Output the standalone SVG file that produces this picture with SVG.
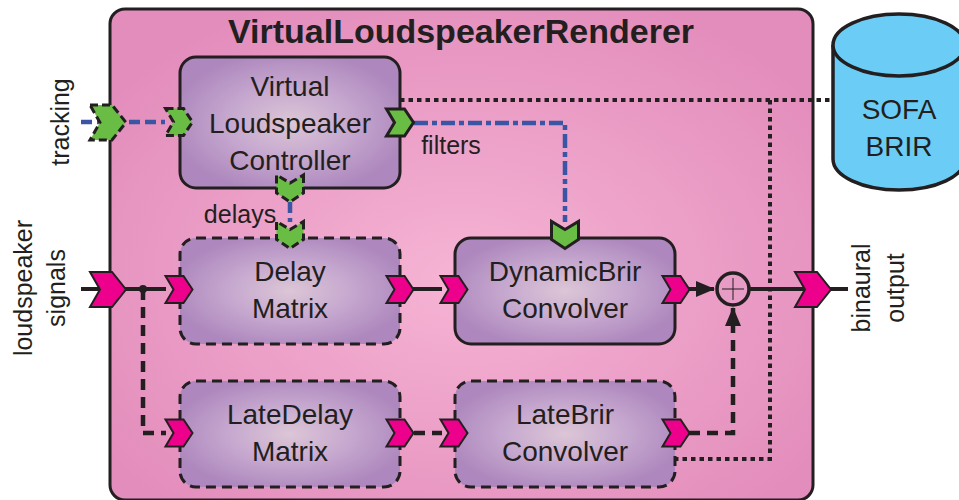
<svg xmlns="http://www.w3.org/2000/svg" width="959" height="500" viewBox="0 0 959 500">
<style>
text{font-family:"Liberation Sans",Arial,sans-serif;font-size:28px;fill:#231f20;text-anchor:middle}
.title{font-weight:bold;font-size:34px}
.side{font-size:25px}
.lab{font-size:25px}
.n{fill:url(#ng);stroke:#231f20;stroke-width:3}
.d{stroke-dasharray:10 6}
.l{fill:none;stroke:#231f20;stroke-width:4}
.dash{stroke-dasharray:11 7;stroke-width:4.500}
.dot{stroke-dasharray:4.500 4}
.b{fill:none;stroke:#3b55a5;stroke-width:4.500}
.p{fill:#ec008c;stroke:#231f20;stroke-width:2}
.g{fill:#69bd45;stroke:#231f20;stroke-width:3}
.gd{stroke-dasharray:8 4}
</style>
<defs>
<radialGradient id="bg" cx="0.5" cy="0.55" r="0.62"><stop offset="0" stop-color="#f6b4d4"/><stop offset="1" stop-color="#e38dbc"/></radialGradient>
<radialGradient id="ng" cx="0.5" cy="0.5" r="0.55"><stop offset="0" stop-color="#dcc6d6"/><stop offset="0.5" stop-color="#c6a8cf"/><stop offset="1" stop-color="#ad87bd"/></radialGradient>
<marker id="ah" markerUnits="userSpaceOnUse" markerWidth="20" markerHeight="16" refX="18" refY="8" orient="auto"><path d="M0 0L19 8L0 16Z" fill="#231f20"/></marker>
<polygon id="ps" points="-13.500,-13.500 4.500,-13.500 13.500,0 4.500,13.500 -13.500,13.500 -5.500,0"/>
<polygon id="pl" points="-18,-17.500 4,-17.500 18,0 4,17.500 -18,17.500 -8,0"/>
</defs>
<g id="renderer"><rect x="110" y="9" width="703" height="491" rx="15" fill="url(#bg)" stroke="#231f20" stroke-width="3"/><text class="title" x="461" y="43">VirtualLoudspeakerRenderer</text></g>
<g id="sofa"><path d="M833 45V159C833 176 862 190 899 190S965 176 965 159V45" fill="#6bcdf6" stroke="#231f20" stroke-width="3.500"/><ellipse cx="899" cy="45" rx="66" ry="31" fill="#6bcdf6" stroke="#231f20" stroke-width="3.500"/><text x="899" y="119">SOFA</text><text x="899" y="156">BRIR</text></g>
<g id="controller"><rect class="n" x="180" y="57" width="220" height="131" rx="16"/><text x="290" y="96">Virtual</text><text x="290" y="133">Loudspeaker</text><text x="290" y="170">Controller</text></g>
<g id="delay"><rect class="n d" x="180" y="238" width="220" height="106" rx="16"/><text x="290" y="281">Delay</text><text x="290" y="318">Matrix</text></g>
<g id="brir"><rect class="n" x="455" y="238" width="220" height="106" rx="16"/><text x="565" y="281">DynamicBrir</text><text x="565" y="318">Convolver</text></g>
<g id="latedelay"><rect class="n d" x="180" y="381" width="220" height="106" rx="16"/><text x="290" y="424">LateDelay</text><text x="290" y="461">Matrix</text></g>
<g id="latebrir"><rect class="n d" x="455" y="381" width="220" height="106" rx="16"/><text x="565" y="424">LateBrir</text><text x="565" y="461">Convolver</text></g>
<g id="connectors">
<path class="l dot" d="M400 100H833M770 100V459H675"/>
<path class="b" stroke-dasharray="11 5" d="M81 122H165"/>
<path class="b" stroke-dasharray="14 4 5 4" d="M414 123H565V222"/>
<path class="b" stroke-dasharray="11 5" d="M290 202V222"/>
<path class="l" d="M81 289H166M400 289H442M675 289H714" marker-end="url(#ah)"/>
<path class="l dash" d="M143 289V433H166M414 433H442"/>
<path class="l dash" d="M689 433H733V308" marker-end="url(#ah)"/>
<path class="l" d="M749 289H848"/>
<circle cx="143" cy="289" r="4" fill="#231f20"/>
</g>
<g id="sum"><circle cx="733" cy="289" r="16" fill="#e79cc6" stroke="#231f20" stroke-width="3.500"/><path d="M722 289H744M733 278V300" stroke="#231f20" stroke-width="1"/></g>
<g id="ports">
<use href="#pl" class="g gd" x="108" y="122.500"/>
<use href="#ps" class="g gd" x="179" y="122"/>
<use href="#ps" class="g" x="400" y="122.500"/>
<use href="#ps" class="g gd" transform="translate(290 188.500) rotate(90)"/>
<use href="#ps" class="g gd" transform="translate(290 235) rotate(90)"/>
<use href="#ps" class="g" transform="translate(565 235) rotate(90)"/>
<use href="#pl" class="p" x="108" y="289.500"/>
<use href="#ps" class="p" x="179" y="289.500"/>
<use href="#ps" class="p" x="400" y="289.500"/>
<use href="#ps" class="p" x="454" y="289.500"/>
<use href="#ps" class="p" x="676" y="289.500"/>
<use href="#ps" class="p" x="179" y="433"/>
<use href="#ps" class="p" x="400" y="433"/>
<use href="#ps" class="p" x="454" y="433"/>
<use href="#ps" class="p" x="676" y="433"/>
<use href="#pl" class="p" x="813" y="289.500"/>
</g>
<g id="labels">
<text class="lab" x="451" y="154">filters</text>
<text class="lab" x="240" y="223">delays</text>
<text class="side" transform="translate(69 122) rotate(-90)">tracking</text>
<text class="side" transform="translate(32 288) rotate(-90)">loudspeaker</text>
<text class="side" transform="translate(65 288) rotate(-90)">signals</text>
<text class="side" transform="translate(870 288) rotate(-90)">binaural</text>
<text class="side" transform="translate(904 288) rotate(-90)">output</text>
</g>
</svg>
